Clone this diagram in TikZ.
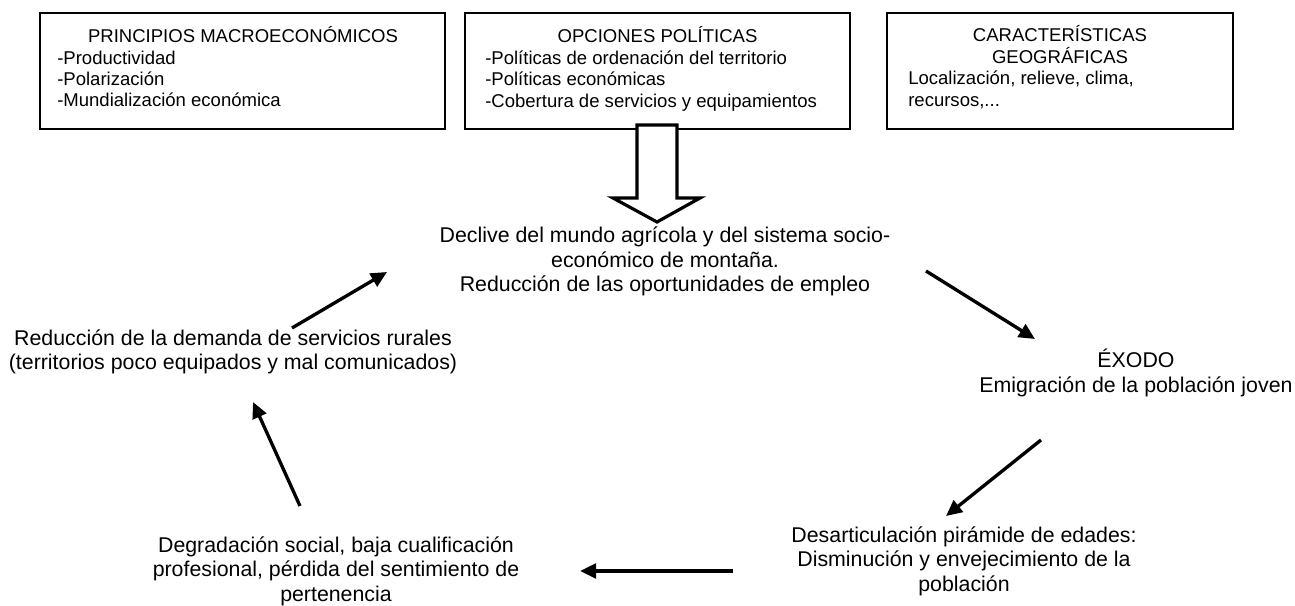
\documentclass[tikz,border=0pt]{standalone}
\usepackage{fontspec}
\setmainfont{Liberation Sans}
\usetikzlibrary{arrows.meta}
\begin{document}
\begin{tikzpicture}[x=0.75pt,y=-0.75pt,
  caja/.style={draw,line width=1.25pt,minimum height=87pt},
  titulo/.style={inner sep=0pt,align=center,font=\fontsize{13.9}{16}\selectfont},
  lista/.style={inner sep=0pt,align=left,anchor=west,font=\fontsize{13.9}{16}\selectfont},
  texto/.style={inner sep=0pt,align=center,font=\fontsize{16}{18.4}\selectfont},
  flecha/.style={line width=2.5pt,-{Triangle[length=12pt,width=11pt]}}]
  \useasboundingbox (0,0) rectangle (1295,606);
  % cajas de arriba
  \node[caja,minimum width=303.75pt] (macro) at (242.5,71) {};
  \node[caja,minimum width=288.75pt] (politica) at (657.5,71) {};
  \node[caja,minimum width=259.5pt] (geo) at (1060,71) {};
  \node[titulo] (macrot) at (243,34.7) {PRINCIPIOS MACROECONÓMICOS};
  \node[lista] (macrol) at (57,78.9) {-Productividad\\-Polarización\\-Mundialización económica};
  \node[titulo] (politicat) at (657.5,34.7) {OPCIONES POLÍTICAS};
  \node[lista] (political) at (485,80.8) {-Políticas de ordenación del territorio\\-Políticas económicas\\-Cobertura de servicios y equipamientos};
  \node[titulo] (geot) at (1060,44.4) {CARACTERÍSTICAS\\GEOGRÁFICAS};
  \node[lista] (geol) at (908,90) {Localización, relieve, clima,\\recursos,...};
  % flecha hueca
  \draw[line width=2.4pt,fill=white,line join=miter] (637,125) -- (677,125) -- (677,198) -- (700,198)
    -- (657,222) -- (613,198) -- (637,198) -- cycle;
  % ciclo
  \node[texto] (declive) at (665,261.7) {Declive del mundo agrícola y del sistema socio-\\económico de montaña.\\Reducción de las oportunidades de empleo};
  \node[texto] (exodo) at (1136,372.7) {ÉXODO\\Emigración de la población joven};
  \node[texto] (desart) at (964,561) {Desarticulación pirámide de edades:\\Disminución y envejecimiento de la\\población};
  \node[texto] (degrad) at (336,571) {Degradación social, baja cualificación\\profesional, pérdida del sentimiento de\\pertenencia};
  \node[texto] (reduc) at (233,352) {Reducción de la demanda de servicios rurales\\(territorios poco equipados y mal comunicados)};
  \coordinate (a1) at (926,271); \coordinate (b1) at (1035,339);
  \coordinate (a2) at (1041,440); \coordinate (b2) at (946,516);
  \coordinate (a3) at (733,571); \coordinate (b3) at (580,571);
  \coordinate (a4) at (300,506); \coordinate (b4) at (253,402);
  \coordinate (a5) at (292,328); \coordinate (b5) at (387,272);
  \draw[flecha] (a1) -- (b1);
  \draw[flecha] (a2) -- (b2);
  \draw[flecha] (a3) -- (b3);
  \draw[flecha] (a4) -- (b4);
  \draw[flecha] (a5) -- (b5);
\end{tikzpicture}
\end{document}
